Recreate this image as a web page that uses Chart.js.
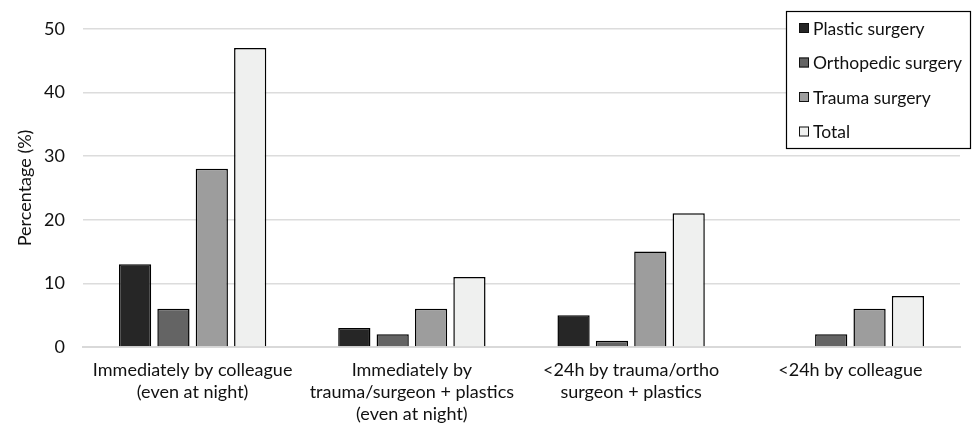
<!DOCTYPE html>
<html>
<head>
<meta charset="utf-8">
<script src="https://cdn.jsdelivr.net/npm/chart.js@4"></script>
<style>
  html, body { margin: 0; padding: 0; background: #fff; }
</style>
</head>
<body>
<canvas id="chart" width="973" height="429"></canvas>
<script>
var categories = [
    ["Immediately by colleague", "(even at night)"],
    ["Immediately by", "trauma/surgeon + plastics", "(even at night)"],
    ["<24h by trauma/ortho", "surgeon + plastics"],
    ["<24h by colleague"]
];
var plastic = [13, 3, 5, 0];
var orthopedic = [6, 2, 1, 2];
var trauma = [28, 6, 15, 6];
var total = [47, 11, 21, 8];
var yTicks = [0, 10, 20, 30, 40, 50];

var FONT = 'Lato, "Open Sans", sans-serif';
var FSIZE = 18;

// legend drawn inside the plot, top-right, with a boxed frame
var boxLegend = {
    id: 'boxLegend',
    afterDraw: function (chart) {
        var c = chart.ctx;
        var x = 786, y = 11, w = 185, h = 138;
        c.save();
        c.fillStyle = '#fff';
        c.fillRect(x, y, w, h);
        c.strokeStyle = '#000';
        c.lineWidth = 1.2;
        c.strokeRect(x + 0.5, y + 0.5, w - 1, h - 1);
        c.font = '17.5px ' + FONT;
        c.textBaseline = 'middle';
        chart.data.datasets.forEach(function (ds, i) {
            var ry = 28 + i * 34.5;
            c.fillStyle = ds.backgroundColor;
            c.fillRect(x + 13, ry - 5, 10, 10);
            c.strokeStyle = '#111';
            c.lineWidth = 1;
            c.strokeRect(x + 13.5, ry - 4.5, 9, 9);
            c.fillStyle = '#111';
            c.fillText(ds.label, x + 27, ry + 1);
        });
        c.restore();
    }
};

var ctx = document.getElementById('chart').getContext('2d');
var chart = new Chart(ctx, {
    type: 'bar',
    data: {
        labels: categories,
        datasets: [{
            label: 'Plastic surgery',
            data: plastic,
            backgroundColor: '#262626',
            borderColor: '#000',
            borderWidth: 1.5
        }, {
            label: 'Orthopedic surgery',
            data: orthopedic,
            backgroundColor: '#646464',
            borderColor: '#000',
            borderWidth: 1.5
        }, {
            label: 'Trauma surgery',
            data: trauma,
            backgroundColor: '#9d9d9d',
            borderColor: '#000',
            borderWidth: 1.5
        }, {
            label: 'Total',
            data: total,
            backgroundColor: '#eff0ef',
            borderColor: '#000',
            borderWidth: 1.5
        }]
    },
    options: {
        responsive: false,
        animation: false,
        layout: { padding: { top: 22, right: 13, left: 0, bottom: 0 } },
        datasets: {
            bar: { categoryPercentage: 0.7, barPercentage: 0.84 }
        },
        plugins: {
            legend: { display: false },
            tooltip: { enabled: false }
        },
        scales: {
            x: {
                grid: { display: false },
                border: { color: '#d9d9d9', width: 2 },
                afterFit: function (axis) { axis.height = 82; },
                ticks: {
                    color: '#111',
                    font: { family: FONT, size: FSIZE, lineHeight: 1.22 },
                    maxRotation: 0,
                    autoSkip: false,
                    padding: 4
                }
            },
            y: {
                min: 0,
                max: 50,
                afterBuildTicks: function (axis) {
                    axis.ticks = yTicks.map(function (v) { return { value: v }; });
                },
                afterFit: function (axis) { axis.width = 83; },
                grid: { color: '#dcdcdc', lineWidth: 1.5, drawTicks: false },
                border: { display: false },
                ticks: {
                    color: '#111',
                    font: { family: FONT, size: FSIZE },
                    padding: 18
                },
                title: {
                    display: true,
                    text: 'Percentage (%)',
                    color: '#111',
                    font: { family: FONT, size: FSIZE },
                    padding: { top: 14, bottom: 2 }
                }
            }
        }
    },
    plugins: [boxLegend]
});
</script>
</body>
</html>
